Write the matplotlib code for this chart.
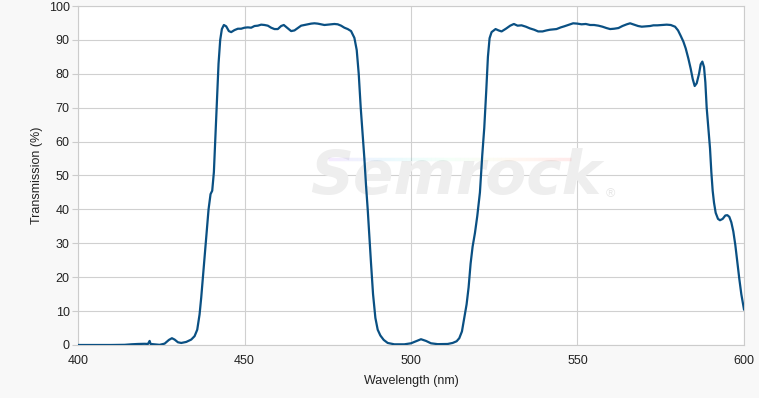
import numpy as np
import matplotlib
matplotlib.use('Agg')
import matplotlib.pyplot as plt
from matplotlib.collections import LineCollection

plt.rcParams['font.family'] = ['Liberation Sans', 'DejaVu Sans']

#%%
#* datos (longitud de onda nm, transmision %)
wavelength = [
    400, 405, 410, 414, 416, 418, 420, 421, 421.5, 421.8, 423, 424.5, 426, 427.3, 428.2,
    429, 430, 431, 432.5, 434, 435, 435.8, 436.5, 437, 437.5, 438, 438.6, 439.2, 439.8,
    440.3, 440.8, 441.2, 441.7, 442.2, 442.7, 443.2, 443.8, 444.5, 445.3, 446, 447, 448,
    449, 450, 451, 452, 453, 454, 455, 456, 457, 458, 459, 460, 461, 461.8, 462.8, 464,
    465, 466, 467, 468, 469, 470, 471, 472, 473, 474, 475, 476, 477, 478, 479, 480, 481,
    482, 483, 483.7, 484.3, 484.9, 485.5, 486, 486.5, 487, 487.5, 488, 488.6, 489.3, 490,
    490.8, 491.8, 493, 495, 498, 500, 501.5, 503, 504.5, 506, 508, 511, 512.5, 513.7,
    514.5, 515.3, 516, 516.7, 517.3, 517.9, 518.5, 519.2, 519.9, 520.7, 521.4, 522,
    522.6, 523.1, 523.6, 524.2, 525.4, 526.3, 527.2, 528.5, 529.8, 530.9, 532, 533.2,
    534.5, 535.7, 537, 538.2, 539.5, 540.7, 541.7, 542.7, 543.7, 545, 546, 547.5, 548.7,
    550, 551.2, 552.5, 553.8, 555, 556.3, 557.5, 558.7, 559.8, 561, 562.3, 563.5, 564.8,
    565.8, 567, 568.2, 569.3, 570.5, 571.8, 572.8, 574, 575.5, 576.8, 578, 579.3, 580.2,
    581, 581.8, 582.5, 583.3, 584, 584.6, 585.2, 585.8, 586.5, 587, 587.5, 588, 588.4,
    588.8, 589.3, 589.8, 590.2, 590.6, 591, 591.5, 592.2, 592.8, 593.6, 594.4, 595,
    595.6, 596.2, 596.8, 597.4, 598, 598.6, 599.2, 600]
transmission = [
    0, 0, 0, 0.05, 0.2, 0.3, 0.35, 0.3, 1.2, 0.3, 0.2, 0.05, 0.4, 1.5, 2.0,
    1.6, 0.8, 0.6, 0.9, 1.6, 2.6, 4.5, 9, 14, 20, 26, 33, 40, 44.5,
    45.5, 51, 60, 72, 83, 90, 93.2, 94.4, 94, 92.6, 92.3, 92.9, 93.3,
    93.3, 93.6, 93.7, 93.6, 94.1, 94.2, 94.5, 94.4, 94.2, 93.6, 93.2, 93.2, 94.1, 94.4, 93.6, 92.6,
    92.8, 93.5, 94.2, 94.4, 94.6, 94.8, 94.9, 94.8, 94.6, 94.4, 94.5, 94.6, 94.7, 94.6, 94.2, 93.6, 93.2,
    92.6, 90.6, 87, 80, 70, 62, 55, 47, 40, 32, 24, 15, 8, 4.5,
    2.8, 1.5, 0.6, 0.2, 0.2, 0.5, 1.1, 1.7, 1.2, 0.5, 0.25, 0.3, 0.6, 1.1,
    2, 4, 8, 12, 17, 24, 29, 33, 38, 45, 56, 64,
    75, 85, 90.5, 92.3, 93.2, 92.8, 92.5, 93.3, 94.2, 94.7, 94.2, 94.3,
    93.9, 93.4, 93.0, 92.5, 92.5, 92.8, 93, 93.1, 93.2, 93.7, 94, 94.5, 94.9,
    94.8, 94.6, 94.7, 94.4, 94.4, 94.2, 93.9, 93.5, 93.2, 93.3, 93.5, 94.1, 94.6,
    94.9, 94.5, 94.1, 93.9, 94.0, 94.1, 94.3, 94.3, 94.4, 94.5, 94.4, 93.9, 92.8,
    91.2, 89.5, 87.5, 84.5, 81.5, 78.5, 76.4, 77.2, 80, 82.8, 83.6, 82, 77.5,
    70, 64, 58, 51, 45.5, 42, 39, 37.2, 36.8, 37.2, 38.2, 38.3,
    37.8, 36.2, 33.5, 29.5, 24.5, 19.5, 15, 10.5]

x_ticks = [400, 450, 500, 550, 600]
y_ticks = [0, 10, 20, 30, 40, 50, 60, 70, 80, 90, 100]

#%%
#* figura
fig = plt.figure(figsize=(7.59, 3.98), dpi=100, facecolor='#f8f8f8')
ax = fig.add_axes([0.1028, 0.1332, 0.8774, 0.8517])
ax.set_facecolor('white')

# marca de agua
ax.text(513.5, 49.5, 'Semrock', fontsize=43, fontweight='bold', fontstyle='italic',
        family='DejaVu Sans', color='#eeeeee', ha='center', va='center', zorder=1)
ax.text(560, 44.5, '®', fontsize=9, color='#e6e6e6', ha='center', va='center', zorder=1)
gx = np.linspace(475, 548, 60)
pts = np.array([gx, 55 + (gx - 475) * 0.0]).T.reshape(-1, 1, 2)
segs = np.concatenate([pts[:-1], pts[1:]], axis=1)
lc = LineCollection(segs, cmap='rainbow', linewidth=2.5, alpha=0.08, zorder=1)
lc.set_array(np.linspace(0, 1, len(segs)))
ax.add_collection(lc)

ax.plot(wavelength, transmission, color='#0a5083', linewidth=1.6, zorder=3,
        solid_joinstyle='round')

ax.set_xlim(400, 600)
ax.set_ylim(0, 100)
ax.set_xticks(x_ticks)
ax.set_yticks(y_ticks)
ax.grid(True, color='#d0d0d0', linewidth=0.8, zorder=0)
ax.set_axisbelow(True)
for s in ax.spines.values():
    s.set_color('#cccccc')
    s.set_linewidth(0.8)
ax.tick_params(axis='y', length=4, width=0.8, color='#cccccc', labelsize=9,
               labelcolor='#222222', pad=2)
ax.tick_params(axis='x', length=0, labelsize=9, labelcolor='#222222', pad=7)
ax.set_xlabel('Wavelength (nm)', fontsize=9, color='#222222', labelpad=6)
ax.set_ylabel('Transmission (%)', fontsize=9, color='#222222', labelpad=4)

fig.savefig('out.png', dpi=100, facecolor=fig.get_facecolor())
